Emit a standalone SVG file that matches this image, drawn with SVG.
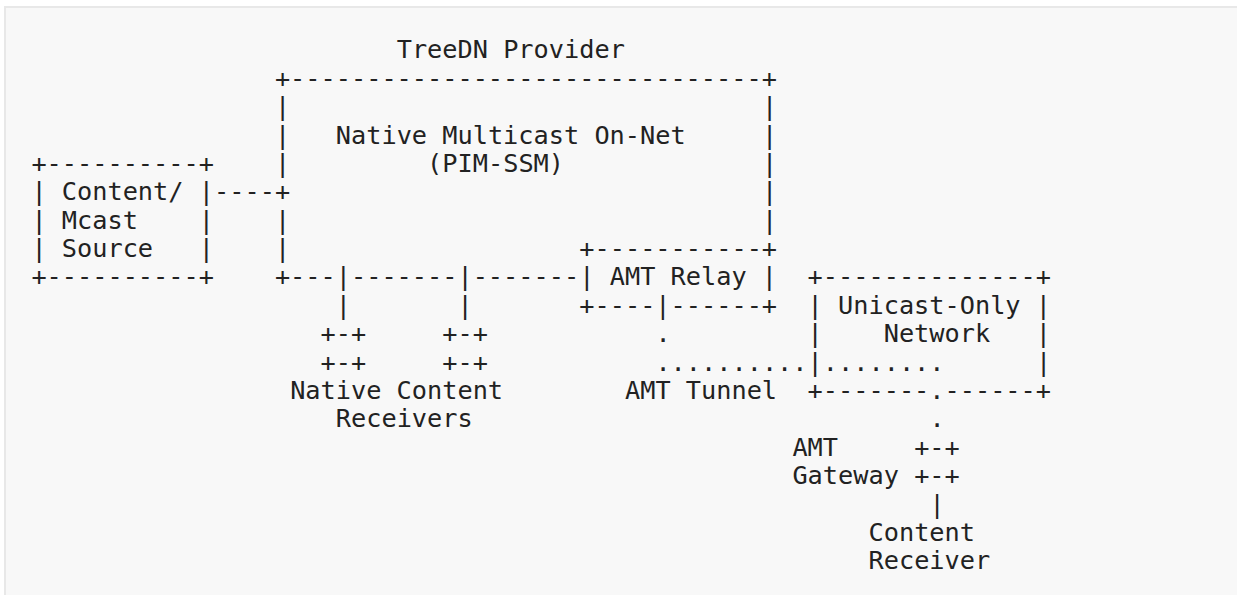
<svg xmlns="http://www.w3.org/2000/svg" width="1237" height="595" viewBox="0 0 1237 595" xml:space="preserve">
<style>
text{font-family:"DejaVu Sans Mono","Liberation Mono",monospace;font-size:25.28px;fill:#222;white-space:pre}
</style>
<rect x="5" y="7" width="1300" height="700" fill="#f8f8f8" stroke="#e8e8e8" stroke-width="2"/>
<g id="provider">
<text x="396.68" y="58.3">TreeDN Provider</text>
<text x="274.92" y="86.7">+-------------------------------+</text>
<text x="274.92" y="115.1">|</text><text x="761.96" y="115.1">|</text>
<text x="274.92" y="143.5">|</text><text x="335.8" y="143.5">Native Multicast On-Net</text><text x="761.96" y="143.5">|</text>
<text x="274.92" y="171.9">|</text><text x="427.12" y="171.9">(PIM-SSM)</text><text x="761.96" y="171.9">|</text>
<text x="274.92" y="200.3">+</text><text x="761.96" y="200.3">|</text>
<text x="274.92" y="228.6">|</text><text x="761.96" y="228.6">|</text>
<text x="274.92" y="257">|</text>
<text x="274.92" y="285.4">+---|-------|-------</text>
</g>
<g id="amt-relay">
<text x="579.32" y="257">+-----------+</text>
<text x="579.32" y="285.4">| AMT Relay |</text>
<text x="579.32" y="313.8">+----|------+</text>
</g>
<g id="content-source">
<text x="31.4" y="171.9">+----------+</text>
<text x="31.4" y="200.3">| Content/ |</text>
<text x="31.4" y="228.6">| Mcast    |</text>
<text x="31.4" y="257">| Source   |</text>
<text x="31.4" y="285.4">+----------+</text>
</g>
<g id="unicast-network">
<text x="807.62" y="285.4">+--------------+</text>
<text x="807.62" y="313.8">| Unicast-Only |</text>
<text x="807.62" y="342.2">|    Network   |</text>
<text x="807.62" y="370.6">|</text><text x="1035.92" y="370.6">|</text>
<text x="807.62" y="399">+-------.------+</text>
</g>
<g id="native-receiver-1">
<text x="320.58" y="342.2">+-+</text>
<text x="320.58" y="370.6">+-+</text>
</g>
<g id="native-receiver-2">
<text x="442.34" y="342.2">+-+</text>
<text x="442.34" y="370.6">+-+</text>
</g>
<g id="native-receivers-label">
<text x="290.14" y="399">Native Content</text>
<text x="335.8" y="427.4">Receivers</text>
</g>
<g id="amt-gateway">
<text x="792.4" y="455.8">AMT</text>
<text x="792.4" y="484.2">Gateway</text>
<text x="914.16" y="455.8">+-+</text>
<text x="914.16" y="484.2">+-+</text>
</g>
<g id="content-receiver">
<text x="868.5" y="540.9">Content</text>
<text x="868.5" y="569.3">Receiver</text>
</g>
<g id="connectors">
<text x="214.04" y="200.3">----</text>
<text x="335.8" y="313.8">|</text>
<text x="457.56" y="313.8">|</text>
<text x="655.42" y="342.2">.</text>
<text x="655.42" y="370.6">..........</text>
<text x="822.84" y="370.6">........</text>
<text x="624.98" y="399">AMT Tunnel</text>
<text x="929.38" y="427.4">.</text>
<text x="929.38" y="512.5">|</text>
</g>
</svg>
